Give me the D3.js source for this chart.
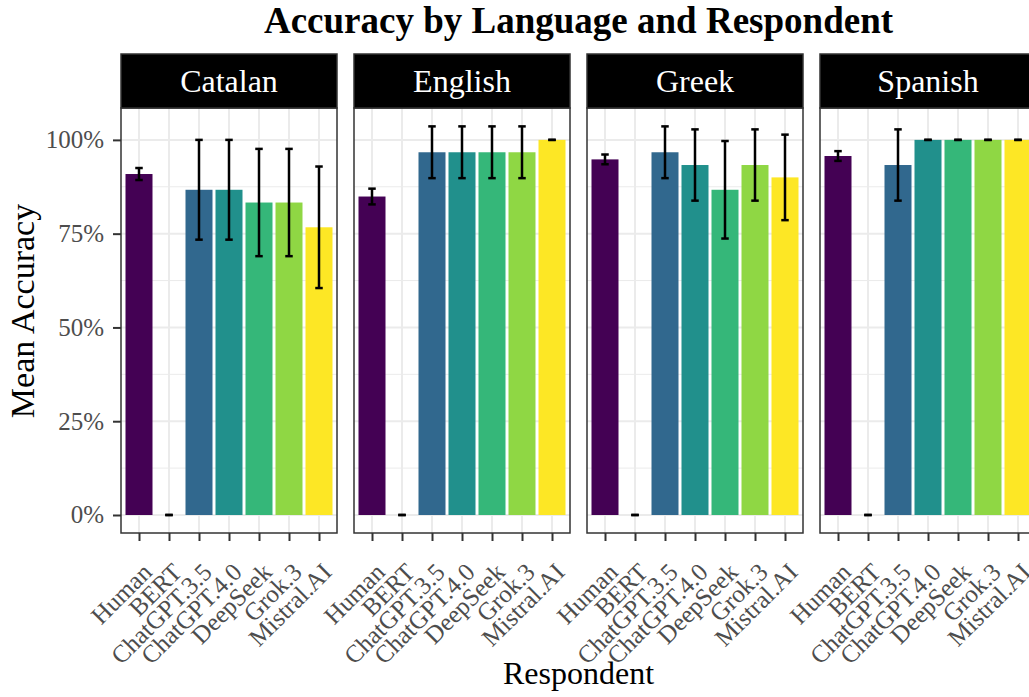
<!DOCTYPE html>
<html>
<head>
<meta charset="utf-8">
<script src="https://cdn.jsdelivr.net/npm/d3@7"></script>
<style>
  html, body { margin: 0; padding: 0; background: #ffffff; }
  svg { display: block; font-family: "Liberation Serif", "Times New Roman", serif; }
</style>
</head>
<body>
<svg id="chart" width="1029" height="697"></svg>
<script>
// ---------- data ----------
const languages = ["Catalan", "English", "Greek", "Spanish"];
const respondents = ["Human", "BERT", "ChatGPT.3.5", "ChatGPT.4.0", "DeepSeek", "Grok.3", "Mistral.AI"];
const colors = ["#440154", "#443A83", "#31688E", "#21908C", "#35B779", "#8FD744", "#FDE725"];

// mean accuracy (fraction) per respondent, one array per language
const catalanMean = [0.909, 0, 0.867, 0.867, 0.833, 0.833, 0.767];
const englishMean = [0.849, 0, 0.967, 0.967, 0.967, 0.967, 1.000];
const greekMean   = [0.948, 0, 0.967, 0.933, 0.867, 0.933, 0.900];
const spanishMean = [0.957, 0, 0.933, 1.000, 1.000, 1.000, 1.000];

// error bar half-widths
const catalanErr = [0.016, 0, 0.133, 0.133, 0.143, 0.143, 0.162];
const englishErr = [0.021, 0, 0.069, 0.069, 0.069, 0.069, 0];
const greekErr   = [0.013, 0, 0.069, 0.095, 0.130, 0.095, 0.114];
const spanishErr = [0.013, 0, 0.095, 0, 0, 0, 0];

const yTicks = [0, 0.25, 0.5, 0.75, 1];
const yMinor = [0.125, 0.375, 0.625, 0.875];

const means = [catalanMean, englishMean, greekMean, spanishMean];
const errs = [catalanErr, englishErr, greekErr, spanishErr];

// ---------- layout ----------
const svg = d3.select("#chart");
const panelW = 216, panelGap = 17, panelLeft0 = 121;
const stripTop = 54, stripH = 54;
const plotTop = stripTop + stripH, plotBottom = 533;

const y = d3.scaleLinear().domain([-0.048, 1.085]).range([plotBottom, plotTop]);
const x = d3.scalePoint().domain(respondents).range([0, panelW]).padding(0.6);
const barW = x.step() * 0.9;
const capW = x.step() * 0.25;
const color = d3.scaleOrdinal().domain(respondents).range(colors);

const gridCol = "#EBEBEB", borderCol = "#333333", textCol = "#4D4D4D";

languages.forEach((lang, li) => {
  const px = panelLeft0 + li * (panelW + panelGap);
  const g = svg.append("g").attr("transform", `translate(${px},0)`);

  const clipId = "clip" + li;
  g.append("clipPath").attr("id", clipId)
    .append("rect").attr("x", 0).attr("y", plotTop).attr("width", panelW).attr("height", plotBottom - plotTop);

  const inner = g.append("g").attr("clip-path", `url(#${clipId})`);
  inner.append("rect").attr("x", 0).attr("y", plotTop).attr("width", panelW).attr("height", plotBottom - plotTop).attr("fill", "#fff");

  // minor grid
  inner.selectAll(".minor").data(yMinor).enter().append("line")
    .attr("x1", 0).attr("x2", panelW).attr("y1", d => y(d)).attr("y2", d => y(d))
    .attr("stroke", gridCol).attr("stroke-width", 1);
  // major grid
  inner.selectAll(".majorY").data(yTicks).enter().append("line")
    .attr("x1", 0).attr("x2", panelW).attr("y1", d => y(d)).attr("y2", d => y(d))
    .attr("stroke", gridCol).attr("stroke-width", 2);
  inner.selectAll(".majorX").data(respondents).enter().append("line")
    .attr("x1", d => x(d)).attr("x2", d => x(d)).attr("y1", plotTop).attr("y2", plotBottom)
    .attr("stroke", gridCol).attr("stroke-width", 2);

  const rows = respondents.map((r, i) => ({ r, m: means[li][i], e: errs[li][i] }));

  // bars
  inner.selectAll(".bar").data(rows).enter().append("rect")
    .attr("x", d => x(d.r) - barW / 2)
    .attr("width", barW)
    .attr("y", d => y(d.m))
    .attr("height", d => Math.max(0, y(0) - y(d.m)))
    .attr("fill", d => color(d.r));

  // error bars
  const eb = inner.selectAll(".eb").data(rows).enter().append("g").attr("stroke", "#000").attr("stroke-width", 2.5);
  eb.append("line").attr("x1", d => x(d.r)).attr("x2", d => x(d.r))
    .attr("y1", d => y(d.m - d.e)).attr("y2", d => y(d.m + d.e));
  eb.append("line").attr("x1", d => x(d.r) - capW / 2).attr("x2", d => x(d.r) + capW / 2)
    .attr("y1", d => y(d.m + d.e)).attr("y2", d => y(d.m + d.e));
  eb.append("line").attr("x1", d => x(d.r) - capW / 2).attr("x2", d => x(d.r) + capW / 2)
    .attr("y1", d => y(d.m - d.e)).attr("y2", d => y(d.m - d.e));

  // panel border
  g.append("rect").attr("x", 0).attr("y", plotTop).attr("width", panelW).attr("height", plotBottom - plotTop)
    .attr("fill", "none").attr("stroke", borderCol).attr("stroke-width", 1.5);

  // strip
  g.append("rect").attr("x", 0).attr("y", stripTop).attr("width", panelW).attr("height", stripH)
    .attr("fill", "#000").attr("stroke", borderCol).attr("stroke-width", 1.5);
  g.append("text").attr("x", panelW / 2).attr("y", stripTop + stripH / 2)
    .attr("text-anchor", "middle").attr("dominant-baseline", "central")
    .attr("fill", "#fff").attr("font-size", 32).text(lang);

  // x axis
  const xAxis = g.append("g").attr("transform", `translate(0,${plotBottom})`)
    .call(d3.axisBottom(x).tickSize(8).tickSizeOuter(0).tickFormat(""));
  xAxis.select(".domain").remove();
  xAxis.selectAll(".tick line").attr("stroke", borderCol).attr("stroke-width", 2);
  xAxis.selectAll(".tick").append("text")
    .attr("transform", "translate(1,28) rotate(-45)")
    .attr("text-anchor", "end").attr("dy", "0.72em")
    .attr("fill", textCol).attr("font-size", 25)
    .attr("font-family", "Liberation Serif, serif")
    .text(d => d);

  // y axis only on first panel
  if (li === 0) {
    const yAxis = g.append("g")
      .call(d3.axisLeft(y).tickValues(yTicks).tickSize(8).tickSizeOuter(0).tickFormat(d3.format(".0%")));
    yAxis.select(".domain").remove();
    yAxis.selectAll(".tick line").attr("stroke", borderCol).attr("stroke-width", 2);
    yAxis.selectAll(".tick text").attr("fill", textCol).attr("font-size", 25)
      .attr("font-family", "Liberation Serif, serif").attr("x", -17);
  }
});

// titles
const centerX = panelLeft0 + (4 * panelW + 3 * panelGap) / 2;
svg.append("text").attr("x", centerX).attr("y", 33).attr("text-anchor", "middle")
  .attr("font-size", 37).attr("font-weight", "bold").attr("fill", "#000")
  .text("Accuracy by Language and Respondent");
svg.append("text").attr("x", centerX).attr("y", 684).attr("text-anchor", "middle")
  .attr("font-size", 32).attr("fill", "#000").text("Respondent");
svg.append("text").attr("transform", `translate(34,311) rotate(-90)`)
  .attr("text-anchor", "middle").attr("font-size", 34).attr("fill", "#000").text("Mean Accuracy");
</script>
</body>
</html>
